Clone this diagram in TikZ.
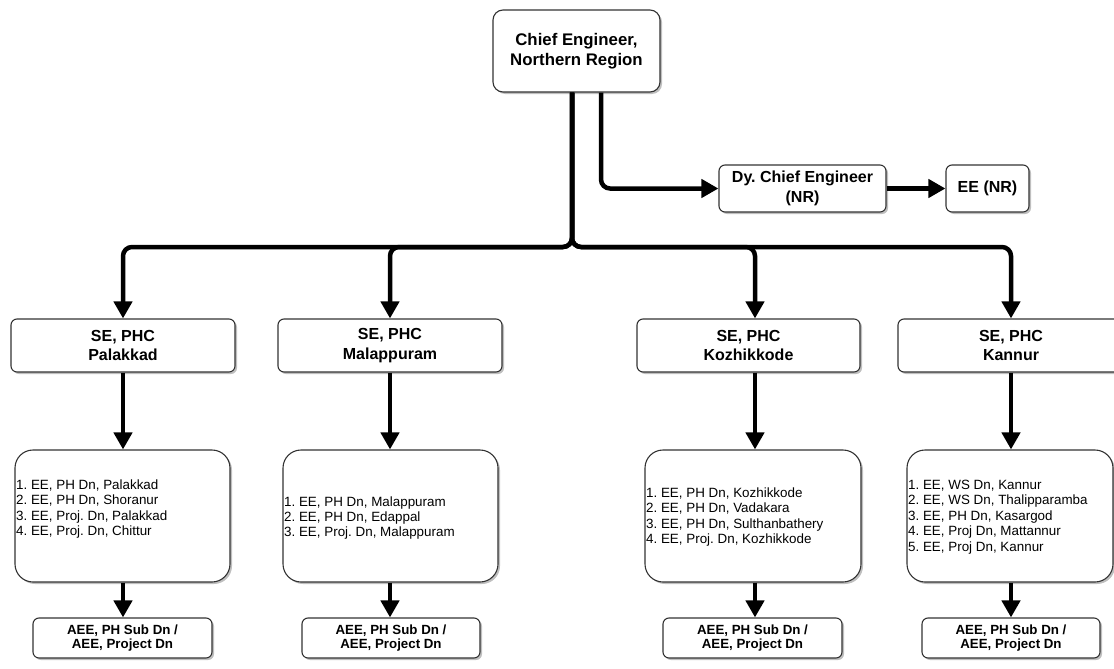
\documentclass[tikz,border=0pt]{standalone}
\usepackage{fontspec}
\setmainfont{Liberation Sans}
\frenchspacing
\usetikzlibrary{arrows.meta,shadows}
\tikzset{
  box/.style={draw=black!80, line width=1.1pt, fill=white, inner sep=0pt, align=center,
    drop shadow={shadow xshift=2pt, shadow yshift=-2pt, fill=black, opacity=0.25}},
  chiefbox/.style={box, rounded corners=10pt, font=\bfseries\fontsize{16.8}{20.5}\selectfont},
  midbox/.style={box, rounded corners=6pt, font=\bfseries\fontsize{16}{19.5}\selectfont},
  listbox/.style={box, rounded corners=18pt},
  listtext/.style={inner sep=0pt, anchor=west, align=left, font=\fontsize{13.4}{15.4}\selectfont},
  aeebox/.style={box, rounded corners=6pt, font=\bfseries\fontsize{13.3}{14.5}\selectfont},
  arr/.style={line width=4.5pt, -{Triangle[width=18pt,length=17pt]}, rounded corners=9pt}
}
\begin{document}
\begin{tikzpicture}[x=1pt,y=-1pt]
\useasboundingbox (0,0) rectangle (1114,669);
% top
\node[chiefbox, minimum width=167pt, minimum height=82pt] (chief) at (576.5,51) {Chief Engineer,\\Northern Region};
\node[midbox, minimum width=167pt, minimum height=47pt] (dy) at (802.5,188.5) {Dy. Chief Engineer\\(NR)};
\node[midbox, minimum width=83pt, minimum height=47pt] (eenr) at (987.5,188.5) {EE (NR)};
% SE boxes
\node[midbox, minimum width=224pt, minimum height=53pt] (se1) at (123,345.5) {SE, PHC\\Palakkad};
\node[midbox, minimum width=224pt, minimum height=53pt] (se2) at (390,345.5) {SE, PHC\\Malappuram};
\node[midbox, minimum width=223pt, minimum height=53pt] (se3) at (748.5,345.5) {SE, PHC\\Kozhikkode};
\node[midbox, minimum width=226pt, minimum height=53pt] (se4) at (1011,345.5) {SE, PHC\\Kannur};
% EE boxes
\node[listbox, minimum width=215pt, minimum height=132pt] (ee1) at (122.5,516) {};
\node[listbox, minimum width=215pt, minimum height=132pt] (ee2) at (390.5,516) {};
\node[listbox, minimum width=216pt, minimum height=132pt] (ee3) at (753,516) {};
\node[listbox, minimum width=206pt, minimum height=132pt] (ee4) at (1010,516) {};
\node[listtext] (ee1t) at ([xshift=1.5pt,yshift=7pt]ee1.west) {1. EE, PH Dn, Palakkad\\2. EE, PH Dn, Shoranur\\3. EE, Proj. Dn, Palakkad\\4. EE, Proj. Dn, Chittur};
\node[listtext] (ee2t) at ([xshift=1.5pt,yshift=-2pt]ee2.west) {1. EE, PH Dn, Malappuram\\2. EE, PH Dn, Edappal\\3. EE, Proj. Dn, Malappuram};
\node[listtext] (ee3t) at ([xshift=1.5pt,yshift=-1pt]ee3.west) {1. EE, PH Dn, Kozhikkode\\2. EE, PH Dn, Vadakara\\3. EE, PH Dn, Sulthanbathery\\4. EE, Proj. Dn, Kozhikkode};
\node[listtext] (ee4t) at ([xshift=1.5pt,yshift=-1pt]ee4.west) {1. EE, WS Dn, Kannur\\2. EE, WS Dn, Thalipparamba\\3. EE, PH Dn, Kasargod\\4. EE, Proj Dn, Mattannur\\5. EE, Proj Dn, Kannur};
% AEE boxes
\node[aeebox, minimum width=179pt, minimum height=40pt] (aee1) at (122.5,638) {AEE, PH Sub Dn /\\AEE, Project Dn};
\node[aeebox, minimum width=178pt, minimum height=40pt] (aee2) at (391,638) {AEE, PH Sub Dn /\\AEE, Project Dn};
\node[aeebox, minimum width=179pt, minimum height=40pt] (aee3) at (752.5,638) {AEE, PH Sub Dn /\\AEE, Project Dn};
\node[aeebox, minimum width=178pt, minimum height=40pt] (aee4) at (1011,638) {AEE, PH Sub Dn /\\AEE, Project Dn};
% helper coordinates
\coordinate (cs) at ([xshift=-4.5pt]chief.south);
\coordinate (cd) at ([xshift=24.5pt]chief.south);
\coordinate (bus) at (572,247);
\coordinate (c1) at (123,0);
\coordinate (c2) at (390,0);
\coordinate (c3) at (755,0);
\coordinate (c4) at (1011,0);
% connectors
\draw[arr] (cd) |- (dy.west);
\draw[arr] (dy.east) -- (eenr.west);
\draw[arr] (cs) -- (cs |- bus) -| (c1 |- se1.north);
\draw[arr] (cs) -- (cs |- bus) -| (c2 |- se2.north);
\draw[arr] (cs) -- (cs |- bus) -| (c3 |- se3.north);
\draw[arr] (cs) -- (cs |- bus) -| (c4 |- se4.north);
\draw[arr] (c1 |- se1.south) -- (c1 |- ee1.north);
\draw[arr] (c2 |- se2.south) -- (c2 |- ee2.north);
\draw[arr] (c3 |- se3.south) -- (c3 |- ee3.north);
\draw[arr] (c4 |- se4.south) -- (c4 |- ee4.north);
\draw[arr] (c1 |- ee1.south) -- (c1 |- aee1.north);
\draw[arr] (c2 |- ee2.south) -- (c2 |- aee2.north);
\draw[arr] (c3 |- ee3.south) -- (c3 |- aee3.north);
\draw[arr] (c4 |- ee4.south) -- (c4 |- aee4.north);
\end{tikzpicture}
\end{document}
